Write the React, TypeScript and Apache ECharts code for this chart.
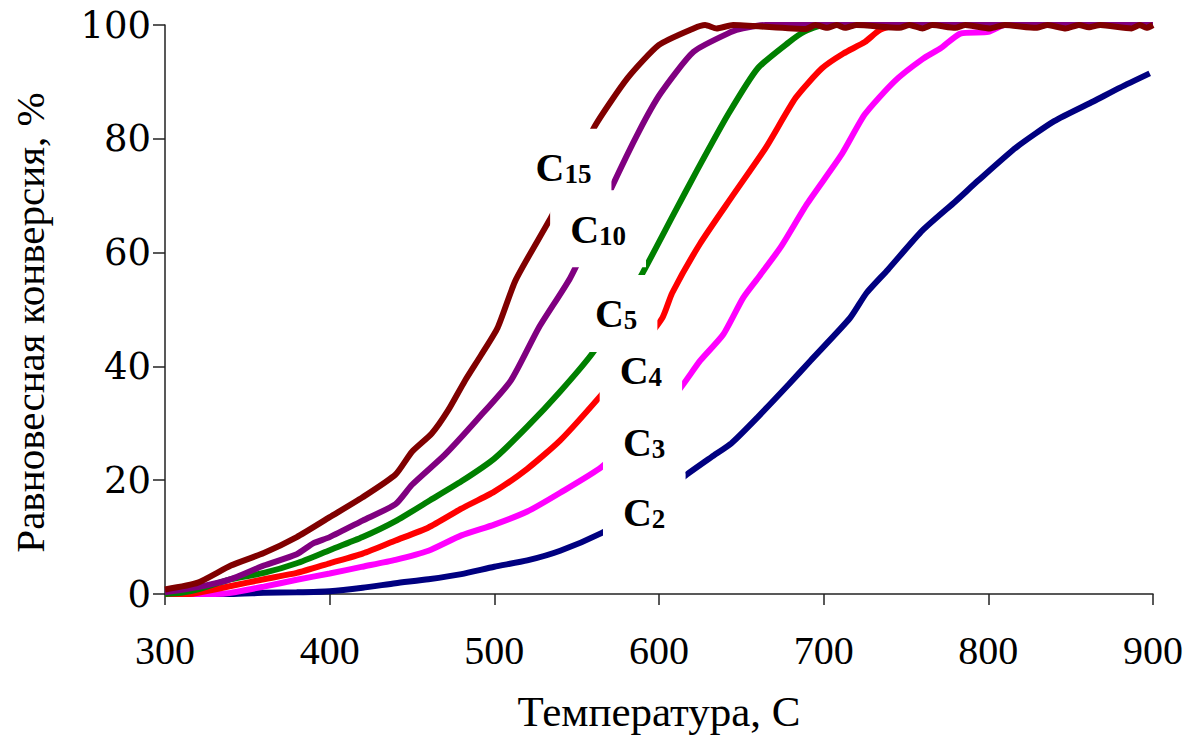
import React, { useEffect, useRef } from 'react';
import * as echarts from 'echarts';

const seriesNames = ['C2', 'C3', 'C4', 'C5', 'C10', 'C15'];
const seriesColors = ['#000080', '#FF00FF', '#FF0000', '#008000', '#800080', '#800000'];

const xTicks = [300, 400, 500, 600, 700, 800, 900];
const yTicks = [0, 20, 40, 60, 80, 100];

const c2 = [
  [300, 0], [340, 0], [360, 0.2], [380, 0.3], [400, 0.5], [420, 1.1], [440, 1.9], [460, 2.6],
  [480, 3.5], [500, 4.8], [520, 5.9], [540, 7.6], [565, 10.7], [590, 14.8], [615, 20.6],
  [632, 24.1], [644, 26.5], [660, 31.1], [679, 36.9], [692, 41], [716, 48.5], [726, 52.9],
  [739, 57], [760, 63.9], [780, 69], [794, 72.7], [817, 78.5], [840, 83.1], [864, 86.6],
  [880, 89], [898, 91.5],
];
const c3 = [
  [300, 0], [330, 0], [340, 0.2], [360, 1.3], [380, 2.5], [400, 3.6], [420, 4.8], [440, 6.0],
  [460, 7.6], [480, 10.3], [500, 12.2], [520, 14.5], [540, 17.8], [565, 22.3], [590, 29],
  [612, 35.8], [625, 41], [639, 45.6], [651, 52], [660, 55.5], [674, 61], [690, 68.6],
  [711, 77.3], [725, 84.3], [743, 90.1], [760, 94], [771, 95.9], [783, 98.5], [800, 98.8],
  [810, 100], [900, 100],
];
const c4 = [
  [300, 0], [315, 0], [320, 0.2], [340, 1.4], [360, 2.6], [380, 3.7], [400, 5.4], [420, 7.1],
  [440, 9.4], [460, 11.7], [480, 15.0], [500, 18.0], [520, 22.0], [540, 27.0], [565, 35],
  [585, 42], [602, 48.5], [608, 52.9], [625, 61.6], [644, 69.7], [665, 78.5], [683, 87.2],
  [699, 92.4], [712, 95], [725, 97], [734, 99.1], [745, 100], [900, 100],
];
const c5 = [
  [300, 0], [310, 0.2], [320, 0.8], [340, 2.6], [360, 3.7], [380, 5.4], [400, 7.7], [420, 10.0],
  [440, 12.8], [460, 16.3], [480, 19.8], [500, 23.8], [520, 29.4], [540, 35.6], [559, 42.1],
  [575, 49], [590, 56.4], [609, 66.8], [623, 74.4], [642, 84.3], [660, 92.4], [679, 97],
  [688, 98.8], [700, 100], [900, 100],
];
const c10 = [
  [300, 0.3], [320, 1.2], [340, 2.6], [360, 5.0], [380, 7.0], [390, 8.9], [400, 10.0],
  [420, 12.9], [440, 15.8], [450, 19.2], [470, 24.5], [490, 30.8], [510, 37.5], [527, 46.8],
  [546, 55.5], [560, 64], [571, 71.3], [588, 81.4], [601, 88.0], [621, 95.3], [644, 98.8],
  [651, 99.4], [665, 100], [900, 100],
];
const c15 = [
  [300, 0.8], [320, 2.0], [340, 5.0], [360, 7.2], [380, 10.0], [400, 13.5], [420, 17.0],
  [440, 21.0], [450, 25.0], [462, 28.2], [472, 32.3], [482, 37.4], [492, 42.0], [502, 46.8],
  [513, 55.2], [535, 66.5], [548, 74], [561, 82.2], [581, 90.7], [600, 96.5], [621, 99.4],
  [628, 100], [635, 99.4], [645, 100], [689, 99.3], [695, 100], [702, 99.5], [708, 100],
  [713, 99.5], [720, 100], [746, 99.5], [752, 100], [760, 99.4], [766, 100], [780, 99.5],
  [786, 100], [801, 99.4], [810, 100], [829, 99.5], [836, 100], [847, 99.4], [855, 100],
  [861, 99.6], [868, 100], [887, 99.4], [892, 100], [896, 99.5], [900, 100],
];
const seriesData = [c2, c3, c4, c5, c10, c15];

const labelSubs = ['15', '10', '5', '4', '3', '2'];
const labelX = [542, 563, 574, 589, 591, 591];
const labelY = [75, 64.2, 49.3, 39.4, 26.8, 14.4];

const FONT = "'Liberation Serif', 'Times New Roman', serif";
const FONT_Y = "'DejaVu Serif', 'Liberation Serif', serif";

export default function App() {
  const ref = useRef<HTMLDivElement>(null);
  useEffect(() => {
    const chart = echarts.init(ref.current!, null, { renderer: 'svg' });
    const lines = seriesData.map((d, i) => ({
      type: 'line',
      name: seriesNames[i],
      data: d,
      showSymbol: false,
      symbol: 'none',
      clip: false,
      smooth: 0.2,
      lineStyle: { color: seriesColors[i], width: 6 },
      itemStyle: { color: seriesColors[i] },
      z: 2 + i,
    }));
    chart.setOption({
      animation: false,
      backgroundColor: '#fff',
      textStyle: { fontFamily: FONT },
      grid: { left: 165, right: 41, top: 25, bottom: 140, containLabel: false },
      xAxis: {
        type: 'value',
        min: xTicks[0],
        max: xTicks[xTicks.length - 1],
        interval: 100,
        name: 'Температура, С',
        nameLocation: 'middle',
        nameGap: 96,
        nameTextStyle: { fontFamily: FONT, fontSize: 43, color: '#000' },
        axisLine: { show: true, lineStyle: { color: '#222', width: 1.5 } },
        axisTick: { show: true, length: 11, inside: false, lineStyle: { color: '#222', width: 1.5 } },
        splitLine: { show: false },
        axisLabel: { fontFamily: FONT, fontSize: 40, color: '#000', margin: 36 },
      },
      yAxis: {
        type: 'value',
        min: yTicks[0],
        max: yTicks[yTicks.length - 1],
        interval: 20,
        name: 'Равновесная конверсия, %',
        nameLocation: 'middle',
        nameGap: 115,
        nameTextStyle: { fontFamily: FONT, fontSize: 41, color: '#000', padding: [0, 26, 0, 0] },
        axisLine: { show: true, lineStyle: { color: '#222', width: 1.5 } },
        axisTick: { show: true, length: 12, inside: false, lineStyle: { color: '#222', width: 1.5 } },
        splitLine: { show: false },
        axisLabel: { fontFamily: FONT_Y, fontSize: 37, color: '#000', margin: 14 },
      },
      series: [
        ...lines,
        {
          type: 'scatter',
          name: 'labels',
          z: 20,
          symbolSize: 1,
          silent: true,
          itemStyle: { color: '#fff', opacity: 1 },
          data: labelSubs.map((s, i) => ({
            value: [labelX[i], labelY[i]],
            label: { formatter: `{c|C}{s|${s}}` },
          })),
          label: {
            show: true,
            position: 'inside',
            backgroundColor: '#fff',
            opacity: 1,
            padding: [15, 20, 18, 20],
            rich: {
              c: { fontFamily: FONT, fontSize: 40, fontWeight: 'bold', color: '#000', lineHeight: 44, verticalAlign: 'bottom' },
              s: { fontFamily: FONT, fontSize: 27, fontWeight: 'bold', color: '#000', lineHeight: 25, verticalAlign: 'bottom' },
            },
          },
        },
      ],
    });
    return () => chart.dispose();
  }, []);
  return (
    <div
      ref={ref}
      style={{ position: 'fixed', left: 0, top: 0, width: 1194, height: 738 }}
    />
  );
}
